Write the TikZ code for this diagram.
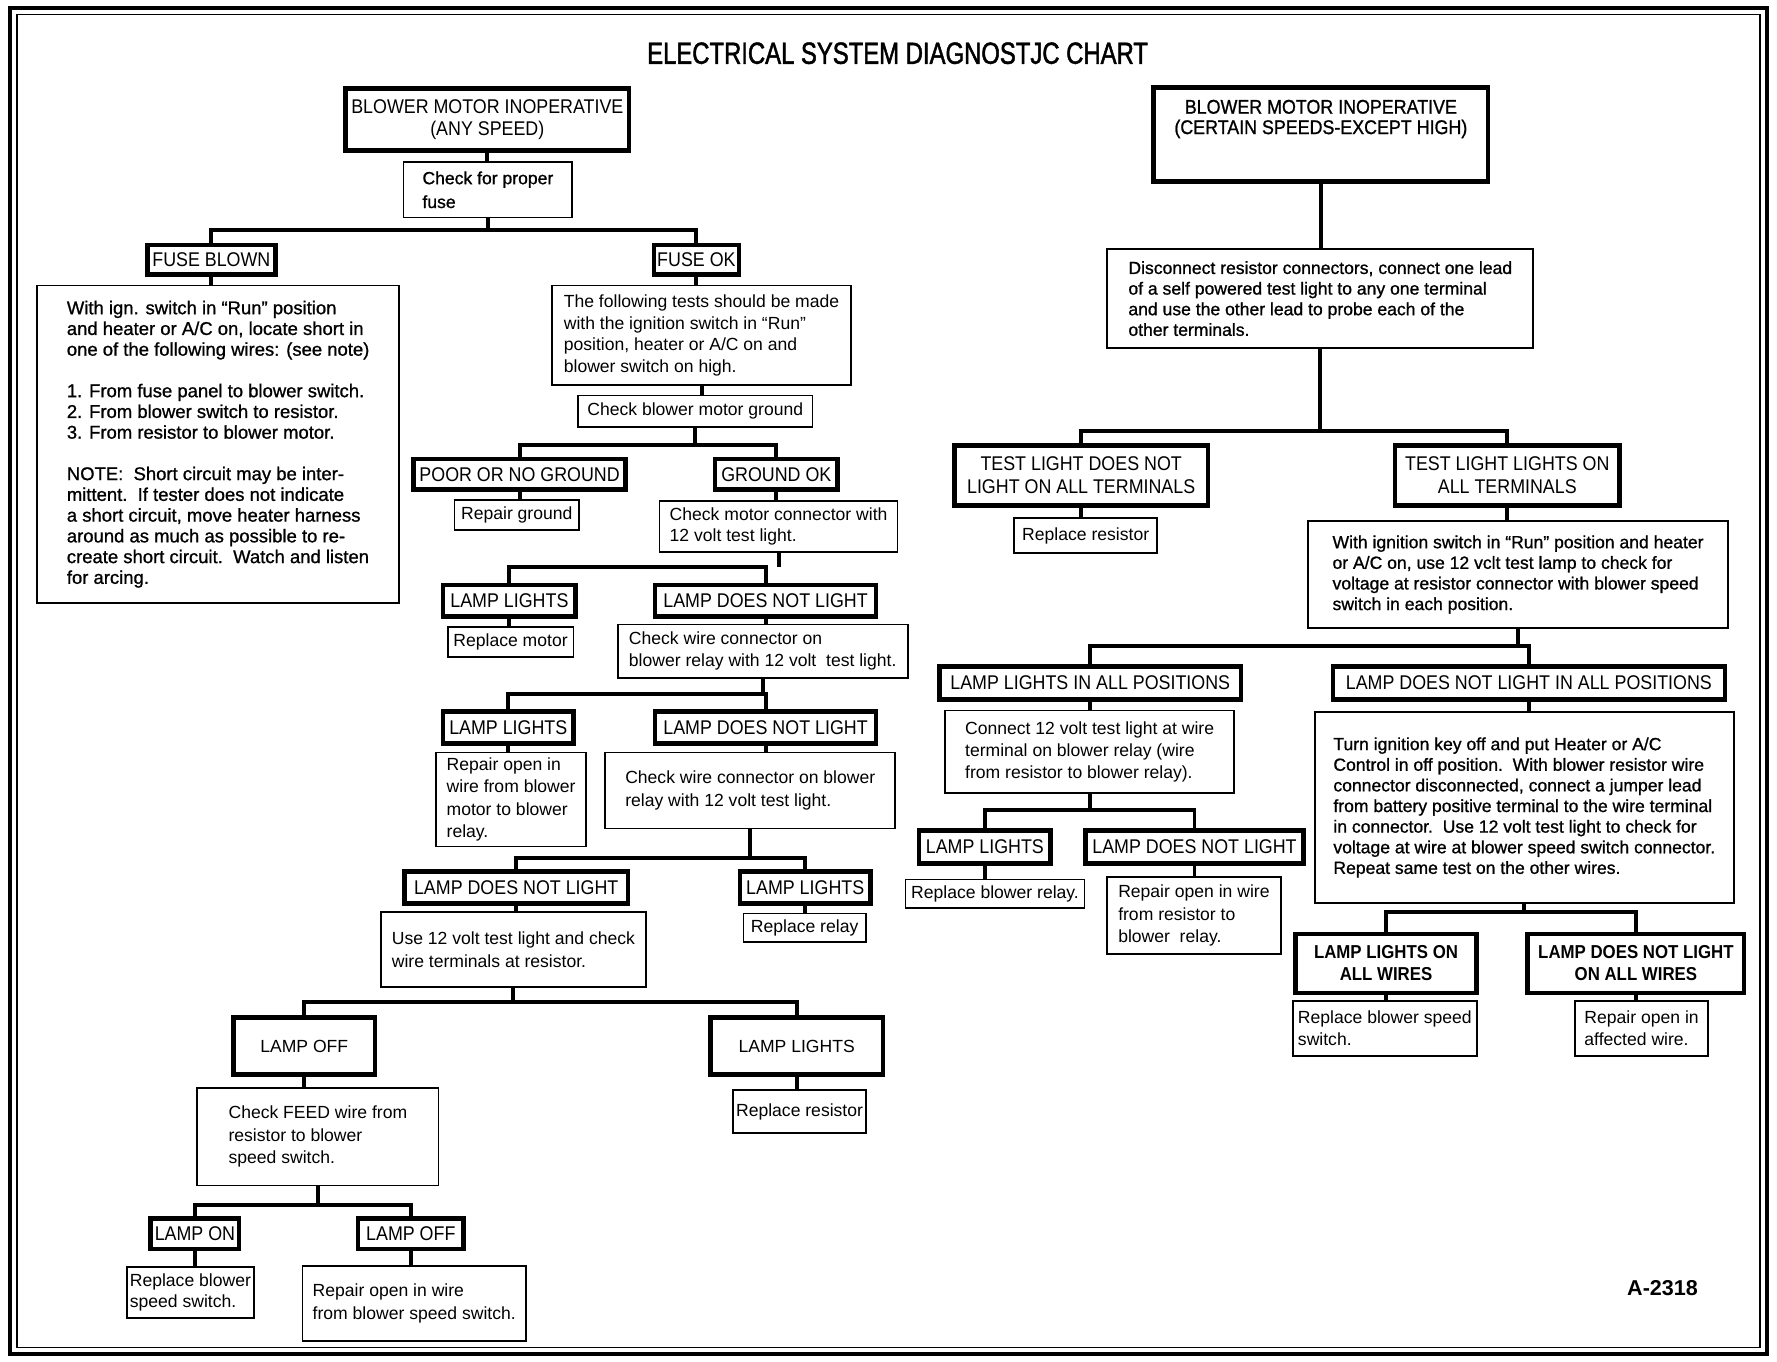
\documentclass[tikz,border=0pt]{standalone}
\usepackage{fontspec}
\setmainfont{Liberation Sans}
\newfontfamily\labf[FakeStretch=0.9]{Liberation Sans}
\newfontfamily\labmf[FakeStretch=0.9,FakeBold=1]{Liberation Sans}
\newfontfamily\titf[FakeStretch=0.78,FakeBold=1.5]{Liberation Sans}
\newfontfamily\medf[FakeBold=1]{Liberation Sans}
\newcommand{\splitto}[4]{%
  \draw[conn] (#3.north) |- (#4.north |- 0,#2) -- (#4.north);
  \draw[conn] (#1.south) -- (#1.south |- 0,#2);}
\newcommand{\dropto}[2]{\draw[conn] (#1.south) -- (#1.south |- #2.north);}
\begin{document}
\begin{tikzpicture}[x=1pt,y=-1pt,
  tbox/.style={draw, line width=1.6pt, inner sep=0pt, align=left,
    font=\fontsize{15.5}{19}\selectfont},
  kbox/.style={draw, line width=4pt, inner sep=0pt, align=center,
    font=\labf\fontsize{17.5}{20}\selectfont},
  med/.style={font=\medf\fontsize{15.5}{18.2}\selectfont},
  bld/.style={font=\labf\bfseries\fontsize{16.5}{19}\selectfont},
  plain/.style={font=\fontsize{15.5}{18}\selectfont},
  conn/.style={line width=3.5pt},
  sz/.style 2 args={minimum width=#1pt, minimum height=#2pt}]
\useasboundingbox (0,0) rectangle (1568,1201);
% frame
\draw[line width=3.5pt] (9,7) rectangle (1559,1195);
\draw[line width=1.2pt] (15,13) rectangle (1553,1189);
\node[font=\titf\fontsize{27}{30}\selectfont] (title) at (792,47) {ELECTRICAL SYSTEM DIAGNOSTJC CHART};

% ---------- left tree ----------
\node[kbox, sz={250}{55}, font=\labf\fontsize{17.5}{19}\selectfont] (B1) at (430,105.5) {BLOWER MOTOR INOPERATIVE\\(ANY SPEED)};
\node[tbox, sz={149}{49}, font=\medf\fontsize{15.5}{21}\selectfont] (chk) at (430.5,167.5) {Check for proper\\fuse};
\node[kbox, sz={113}{26}] (fb) at (186.5,229) {FUSE BLOWN};
\node[kbox, sz={75}{26}] (fok) at (614.5,229) {FUSE OK};
\node[tbox, sz={319}{280}, font=\medf\fontsize{16.3}{18.3}\selectfont] (bigL) at (192.5,392) {With ign. switch in “Run” position\\and heater or A/C on, locate short in\\one of the following wires: (see note)\\[18.3pt]1. From fuse panel to blower switch.\\2. From blower switch to resistor.\\3. From resistor to blower motor.\\[18.3pt]NOTE:\ \ Short circuit may be inter-\\mittent.\ \ If tester does not indicate\\a short circuit, move heater harness\\around as much as possible to re-\\create short circuit.\ \ Watch and listen\\for arcing.};
\node[tbox, sz={264}{88}] (tests) at (619,296) {The following tests should be made\\with the ignition switch in “Run”\\position, heater or A/C on and\\blower switch on high.};
\node[tbox, sz={207}{28}] (cbg) at (613.5,363) {Check blower motor ground};
\node[kbox, sz={187}{27}] (poor) at (458.5,418.5) {POOR OR NO GROUND};
\node[kbox, sz={108}{27}] (gok) at (685,418.5) {GROUND OK};
\node[tbox, sz={110}{27}] (rg) at (456,454.5) {Repair ground};
\node[tbox, sz={210}{45}] (cmc) at (687,464.5) {Check motor connector with\\12 volt test light.};
\node[kbox, sz={117}{28}] (ll1) at (449.5,530) {LAMP LIGHTS};
\node[kbox, sz={195}{28}] (dnl1) at (675.5,530) {LAMP DOES NOT LIGHT};
\node[tbox, sz={111}{27}] (rm) at (450.5,566.5) {Replace motor};
\node[tbox, sz={256}{47}] (cwc1) at (673,574.5) {Check wire connector on\\blower relay with 12 volt\ \ test light.};
\node[kbox, sz={115}{28}] (ll2) at (448.5,642) {LAMP LIGHTS};
\node[kbox, sz={195}{28}] (dnl2) at (675.5,642) {LAMP DOES NOT LIGHT};
\node[tbox, sz={132}{83}, font=\fontsize{15.5}{19.7}\selectfont] (ro1) at (451,705.5) {Repair open in\\wire from blower\\motor to blower\\relay.};
\node[tbox, sz={256}{67}, font=\fontsize{15.5}{20}\selectfont] (cwc2) at (662,697.5) {Check wire connector on blower\\relay with 12 volt test light.};
\node[kbox, sz={197}{28}] (dnl3) at (455.5,783) {LAMP DOES NOT LIGHT};
\node[kbox, sz={115}{28}] (ll3) at (710.5,783) {LAMP LIGHTS};
\node[tbox, sz={234}{66}, font=\fontsize{15.5}{20}\selectfont] (use12) at (453,838) {Use 12 volt test light and check\\wire terminals at resistor.};
\node[tbox, sz={108}{25}] (rr) at (710,818.5) {Replace relay};
\node[kbox, sz={125}{50}, plain] (off1) at (268.5,923) {LAMP OFF};
\node[kbox, sz={152}{50}, plain] (ll4) at (703,923) {LAMP LIGHTS};
\node[tbox, sz={213}{86}, font=\fontsize{15.5}{20}\selectfont] (feed) at (280.5,1003) {Check FEED wire from\\resistor to blower\\speed switch.};
\node[tbox, sz={117}{38}] (rres) at (705.5,981) {Replace resistor};
\node[kbox, sz={78}{27}] (on) at (172,1088.5) {LAMP ON};
\node[kbox, sz={93}{27}] (off2) at (362.5,1088.5) {LAMP OFF};
\node[tbox, sz={112}{45}] (rbs) at (168,1140.5) {Replace blower\\speed switch.};
\node[tbox, sz={197}{66}, font=\fontsize{15.5}{20}\selectfont] (ro2) at (365.5,1150) {Repair open in wire\\from blower speed switch.};

\draw[conn] (B1.south) -- (B1.south |- chk.north);
\splitto{chk}{203}{fb}{fok}
\dropto{fb}{bigL}
\dropto{fok}{tests}
\dropto{tests}{cbg}
\splitto{cbg}{393}{poor}{gok}
\dropto{poor}{rg}
\dropto{gok}{cmc}
\splitto{cmc}{500}{ll1}{dnl1}
\dropto{ll1}{rm}
\dropto{dnl1}{cwc1}
\splitto{cwc1}{612}{ll2}{dnl2}
\dropto{ll2}{ro1}
\dropto{dnl2}{cwc2}
\splitto{cwc2}{757}{dnl3}{ll3}
\dropto{dnl3}{use12}
\dropto{ll3}{rr}
\splitto{use12}{884}{off1}{ll4}
\dropto{off1}{feed}
\dropto{ll4}{rres}
\splitto{feed}{1063}{on}{off2}
\dropto{on}{rbs}
\dropto{off2}{ro2}

% ---------- right tree ----------
\node[kbox, sz={295}{83}] (B2) at (1165.5,118.5) {};
\node[align=center, inner sep=0pt, font=\labmf\fontsize{17.5}{18}\selectfont] (B2t) at (1165.5,105) {BLOWER MOTOR INOPERATIVE\\(CERTAIN SPEEDS-EXCEPT HIGH)};
\node[tbox, sz={376}{87}, med] (disc) at (1165,263.5) {Disconnect resistor connectors, connect one lead\\of a self powered test light to any one terminal\\and use the other lead to probe each of the\\other terminals.};
\node[kbox, sz={224}{53}] (tdn) at (954,419.5) {TEST LIGHT DOES NOT\\LIGHT ON ALL TERMINALS};
\node[kbox, sz={198}{53}] (tlo) at (1330,419.5) {TEST LIGHT LIGHTS ON\\ALL TERMINALS};
\node[tbox, sz={126}{31}] (rres2) at (958,472.5) {Replace resistor};
\node[tbox, sz={371}{94}, med] (ign) at (1339.5,507) {With ignition switch in “Run” position and heater\\or A/C on, use 12 vclt test lamp to check for\\voltage at resistor connector with blower speed\\switch in each position.};
\node[kbox, sz={266}{29}] (lla) at (962,602.5) {LAMP LIGHTS IN ALL POSITIONS};
\node[kbox, sz={346}{29}] (dna) at (1349,602.5) {LAMP DOES NOT LIGHT IN ALL POSITIONS};
\node[tbox, sz={255}{73}, font=\fontsize{15.5}{19.5}\selectfont] (cnr) at (961.5,663.5) {Connect 12 volt test light at wire\\terminal on blower relay (wire\\from resistor to blower relay).};
\node[tbox, sz={370}{169}, med] (turn) at (1345,712.5) {Turn ignition key off and put Heater or A/C\\Control in off position.\ \ With blower resistor wire\\connector disconnected, connect a jumper lead\\from battery positive terminal to the wire terminal\\in connector.\ \ Use 12 volt test light to check for\\voltage at wire at blower speed switch connector.\\Repeat same test on the other wires.};
\node[kbox, sz={116}{29}] (ll5) at (869,747.5) {LAMP LIGHTS};
\node[kbox, sz={192}{29}] (dnl5) at (1054,747.5) {LAMP DOES NOT LIGHT};
\node[tbox, sz={158}{25}] (rbr) at (878,788.5) {Replace blower relay.};
\node[tbox, sz={153}{68}, font=\fontsize{15.5}{20}\selectfont] (ro3) at (1053.5,808) {Repair open in wire\\from resistor to\\blower\ \ relay.};
\node[kbox, sz={160}{52}, bld] (llw) at (1223,850) {LAMP LIGHTS ON\\ALL WIRES};
\node[kbox, sz={191}{52}, bld] (dnw) at (1443.5,850) {LAMP DOES NOT LIGHT\\ON ALL WIRES};
\node[tbox, sz={162}{49}] (rbs2) at (1222,907.5) {Replace blower speed\\switch.};
\node[tbox, sz={117}{49}] (raw) at (1448.5,907.5) {Repair open in\\affected wire.};
\node[font=\bfseries\fontsize{19}{22}\selectfont] (code) at (1467,1137) {A-2318};

\dropto{B2}{disc}
\splitto{disc}{380}{tdn}{tlo}
\dropto{tdn}{rres2}
\dropto{tlo}{ign}
\splitto{ign}{570}{lla}{dna}
\dropto{lla}{cnr}
\dropto{dna}{turn}
\splitto{cnr}{715}{ll5}{dnl5}
\dropto{ll5}{rbr}
\dropto{dnl5}{ro3}
\splitto{turn}{805}{llw}{dnw}
\dropto{llw}{rbs2}
\dropto{dnw}{raw}
\end{tikzpicture}
\end{document}
